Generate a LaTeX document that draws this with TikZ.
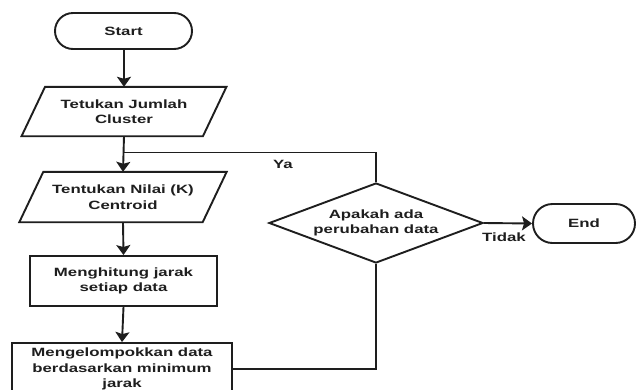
\documentclass[tikz,border=0pt]{standalone}
\usepackage{fontspec}
\setmainfont{Liberation Sans}[FakeStretch=1.4]
\usetikzlibrary{arrows.meta,shapes.geometric,shapes.misc}
\definecolor{ink}{HTML}{1E1E1E}
\tikzset{
  base/.style={font=\bfseries\fontsize{12}{15.5}\selectfont, text=ink, align=center, inner sep=0pt},
  terminal/.style={base, draw=ink, line width=1.9pt, rounded rectangle},
  procbox/.style={base, draw=ink, line width=1.9pt, rectangle},
  iobox/.style={base},
  decision/.style={base, draw=ink, line width=1.9pt, diamond, shape aspect=2.675},
  conn/.style={draw=ink, line width=1.9pt},
  arr/.style={conn, -{Stealth[length=10pt,width=14pt,inset=2pt]}},
  lbl/.style={font=\bfseries\fontsize{12}{14}\selectfont, text=ink, inner sep=0pt}
}
\begin{document}
\begin{tikzpicture}[x=1pt,y=-1pt]
\useasboundingbox (0,0) rectangle (637,389);
\clip (0,0) rectangle (637,389);
\fill[white] (0,0) rectangle (637,389);
% nodes
\node[terminal, minimum width=137pt, minimum height=36pt] (start) at (123.5,31) {Start};
\node[iobox, minimum width=181pt, minimum height=49pt] (p1) at (124,111.5) {Tetukan Jumlah\\Cluster};
\node[iobox, minimum width=183pt, minimum height=50pt] (p2) at (123,197) {Tentukan Nilai (K)\\Centroid};
\node[procbox, minimum width=187pt, minimum height=50pt] (r1) at (123.5,281) {Menghitung jarak\\setiap data};
\node[procbox, minimum width=220pt, minimum height=52pt] (r2) at (122,369) {Mengelompokkan data\\berdasarkan minimum\\jarak};
\node[decision, minimum width=214pt, minimum height=80pt] (dia) at (376,223) {Apakah ada\\perubahan data};
\node[terminal, minimum width=102pt, minimum height=39pt] (end) at (584,223.5) {End};
% parallelogram outlines
\draw[conn, line join=miter] ([xshift=11.75pt]p1.north west) -- ([xshift=11.75pt]p1.north east) -- ([xshift=-11.75pt]p1.south east) -- ([xshift=-11.75pt]p1.south west) -- cycle;
\draw[conn, line join=miter] ([xshift=12pt]p2.north west) -- ([xshift=12pt]p2.north east) -- ([xshift=-12pt]p2.south east) -- ([xshift=-12pt]p2.south west) -- cycle;
% connectors
\coordinate (join) at (124,152.5);
\coordinate (loopcorner) at (376,152.5);
\draw[arr] (start.south) -- (p1.south |- start.south) -- (p1.north);
\draw[arr] (p1.south) -- (p2.north);
\draw[arr] (p2.south) -- (r1.north);
\draw[arr] (r1.south) -- (r2.north);
\draw[conn] (r2.east) -| (dia.south);
\draw[conn] (dia.north) -- (loopcorner) -- (join);
\draw[arr] (dia.east) -- (end.west);
% labels
\node[lbl] (ya) at (283,164) {Ya};
\node[lbl] (tidak) at (504,237) {Tidak};
\end{tikzpicture}
\end{document}
